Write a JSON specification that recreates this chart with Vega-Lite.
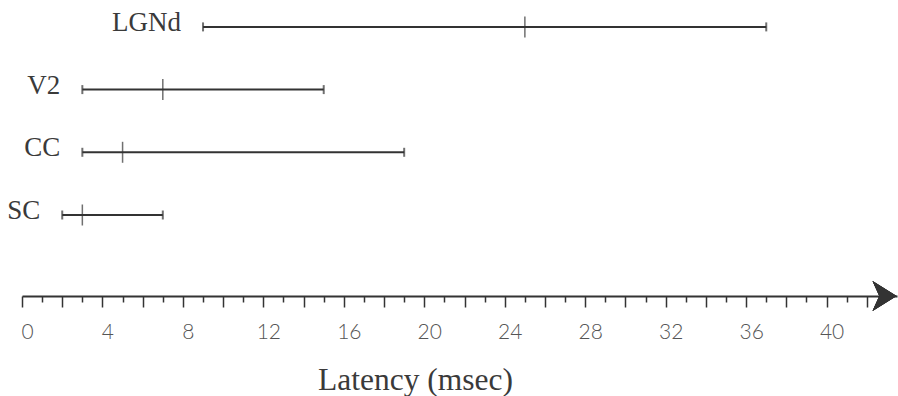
{
  "$schema": "https://vega.github.io/schema/vega-lite/v6.json",
  "autosize": {"type": "none"},
  "width": 875,
  "height": 296,
  "padding": {"left": 22, "top": 0, "right": 1, "bottom": 100},
  "background": "white",
  "config": {"view": {"stroke": null}},
  "data": {"values": [
    {"area": "LGNd", "row": 4, "start": 9, "mid": 25, "end": 37},
    {"area": "V2", "row": 3, "start": 3, "mid": 7, "end": 15},
    {"area": "CC", "row": 2, "start": 3, "mid": 5, "end": 19},
    {"area": "SC", "row": 1, "start": 2, "mid": 3, "end": 7}
  ]},
  "encoding": {
    "y": {"field": "row", "type": "quantitative", "scale": {"domain": [-0.292, 4.429], "nice": false, "zero": false}, "axis": null}
  },
  "layer": [
    {
      "mark": {"type": "rule", "color": "#333", "strokeWidth": 2},
      "encoding": {
        "x": {"field": "start", "type": "quantitative",
          "scale": {"domain": [0, 43.5], "nice": false, "zero": false},
          "axis": {
            "values": [0,1,2,3,4,5,6,7,8,9,10,11,12,13,14,15,16,17,18,19,20,21,22,23,24,25,26,27,28,29,30,31,32,33,34,35,36,37,38,39,40,41,42],
            "tickCount": 200,
            "format": "d",
            "labelExpr": "datum.value % 4 === 0 ? datum.label : ''",
            "grid": false,
            "domainColor": "#333",
            "domainWidth": 2,
            "tickColor": "#333",
            "tickWidth": 1.5,
            "tickSize": {"condition": {"test": "datum.value % 2 === 0", "value": 11}, "value": 6},
            "labelFont": "Lato",
            "labelFontWeight": 300,
            "labelFontSize": 21,
            "labelColor": "#555",
            "labelPadding": 14,
            "labelOffset": 5,
            "labelFlush": false,
            "labelOverlap": false,
            "title": "Latency (msec)",
            "titleFont": "Liberation Serif",
            "titleFontWeight": "normal",
            "titleFontSize": 31.5,
            "titleColor": "#3a3a3a",
            "titleX": 393,
            "titleY": 93,
            "titleBaseline": "alphabetic",
            "titleAlign": "center"
          }
        },
        "x2": {"field": "end"}
      }
    },
    {
      "mark": {"type": "tick", "orient": "vertical", "color": "#333", "thickness": 2, "size": 9},
      "encoding": {"x": {"field": "start", "type": "quantitative"}}
    },
    {
      "mark": {"type": "tick", "orient": "vertical", "color": "#333", "thickness": 2, "size": 9},
      "encoding": {"x": {"field": "end", "type": "quantitative"}}
    },
    {
      "mark": {"type": "tick", "orient": "vertical", "color": "#333", "thickness": 1.5, "size": 21},
      "encoding": {"x": {"field": "mid", "type": "quantitative"}}
    },
    {
      "mark": {"type": "text", "align": "right", "baseline": "alphabetic", "dx": -22, "dy": 4, "font": "Liberation Serif", "fontSize": 27, "color": "#3a3a3a"},
      "encoding": {"x": {"field": "start", "type": "quantitative"}, "text": {"field": "area"}}
    },
    {
      "mark": {"type": "point", "shape": "M 0.8 0 L -0.8 -1 L -0.35 0 L -0.8 1 Z", "filled": true, "color": "#333", "opacity": 1, "size": 900, "strokeWidth": 0},
      "encoding": {"x": {"datum": 42.88, "type": "quantitative"}, "y": {"datum": -0.292, "type": "quantitative"}}
    }
  ]
}
